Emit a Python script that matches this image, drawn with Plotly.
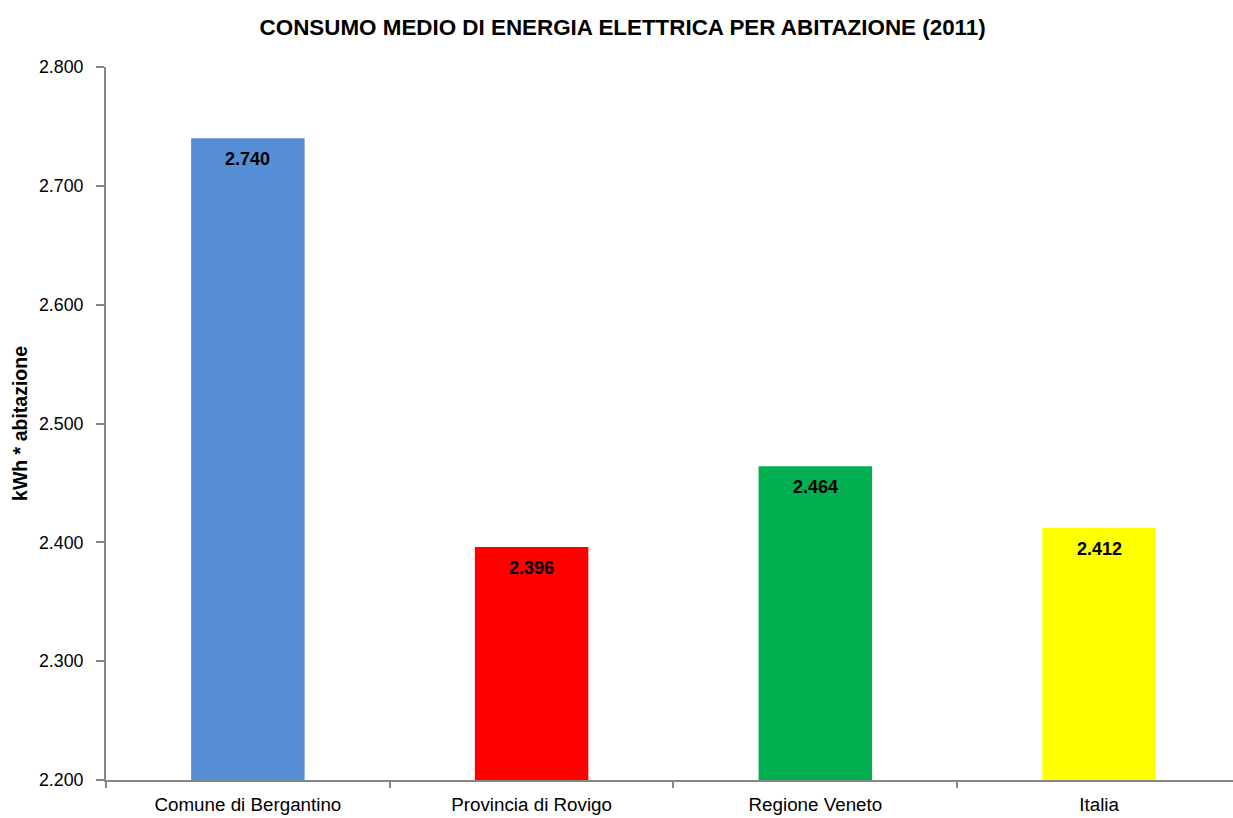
import plotly.graph_objects as go

# Average household electricity consumption, 2011 (kWh per dwelling)
categories = ["Comune di Bergantino", "Provincia di Rovigo", "Regione Veneto", "Italia"]
consumption = [2740, 2396, 2464, 2412]
bar_colors = ["#558ED5", "#FF0000", "#00B050", "#FFFF00"]
y_ticks = [2200, 2300, 2400, 2500, 2600, 2700, 2800]

FONT = "Liberation Sans Narrow, Arial Narrow, Liberation Sans, Arial"


def it_thousands(v):
    return f"{v:,}".replace(",", ".")


fig = go.Figure(
    go.Bar(
        x=categories,
        y=consumption,
        marker=dict(color=bar_colors, line=dict(width=0)),
        width=0.4,
        hoverinfo="x+y",
    )
)

for cat, val in zip(categories, consumption):
    fig.add_annotation(
        x=cat, y=val, text=f"<b>{it_thousands(val)}</b>",
        showarrow=False, yanchor="top", yshift=-9,
        font=dict(family=FONT, size=18, color="#000000"),
    )

axis_gray = "#868686"

fig.update_layout(
    width=1233,
    height=818,
    paper_bgcolor="white",
    plot_bgcolor="white",
    margin=dict(l=106, r=0, t=67, b=38),
    showlegend=False,
    title=dict(
        text="<b>CONSUMO MEDIO DI ENERGIA ELETTRICA PER ABITAZIONE (2011)</b>",
        x=0.505, xanchor="center", y=0.967, yanchor="middle",
        font=dict(family=FONT, size=22.4, color="#000000"),
    ),
    xaxis=dict(
        type="category",
        range=[-0.5, 3.472],
        showline=True, linecolor=axis_gray, linewidth=2,
        ticks="outside", tickson="boundaries", ticklen=6, tickwidth=2, tickcolor=axis_gray,
        showgrid=False, zeroline=False,
        ticklabelstandoff=6,
        tickfont=dict(family=FONT, size=18.8, color="#000000"),
    ),
    yaxis=dict(
        range=[2200, 2800],
        tickvals=y_ticks,
        ticktext=[it_thousands(v) for v in y_ticks],
        showline=True, linecolor=axis_gray, linewidth=2,
        ticks="outside", ticklen=8, tickwidth=2, tickcolor=axis_gray,
        showgrid=False, zeroline=False,
        ticklabelstandoff=9,
        tickfont=dict(family=FONT, size=17.8, color="#000000"),
        title=dict(
            text="<b>kWh * abitazione</b>",
            font=dict(family=FONT, size=19.5, color="#000000"),
            standoff=6,
        ),
        automargin=False,
    ),
)

fig.write_html("out.html")
